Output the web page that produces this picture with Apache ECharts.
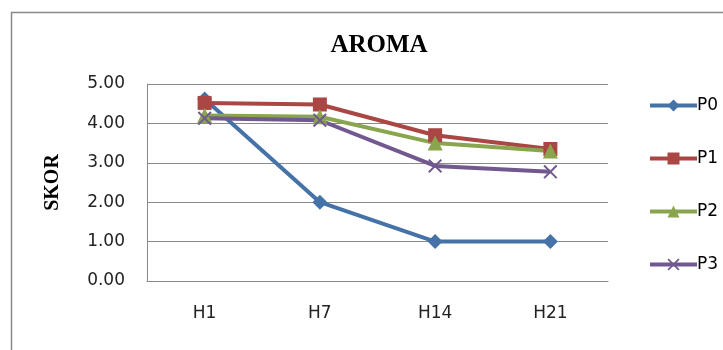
<!DOCTYPE html>
<html>
<head>
<meta charset="utf-8">
<script src="https://cdn.jsdelivr.net/npm/echarts@6/dist/echarts.min.js"></script>
<style>
  html, body { margin: 0; padding: 0; background: #fff; }
  #aromaChart { width: 723px; height: 350px; }
</style>
</head>
<body>
<div id="aromaChart"></div>
<script>
  var categories = ["H1", "H7", "H14", "H21"];
  var yTicks = [0, 1, 2, 3, 4, 5];
  var p0 = [4.62, 2.0, 1.0, 1.0];
  var p1 = [4.52, 4.48, 3.7, 3.35];
  var p2 = [4.2, 4.17, 3.5, 3.3];
  var p3 = [4.13, 4.08, 2.92, 2.77];

  var crossPath = "path://M0,1L1,0L10,9L9,10Z M9,0L10,1L1,10L0,9Z";
  var labelFont = "DejaVu Sans";

  var chartDom = document.getElementById("aromaChart");
  var myChart = echarts.init(chartDom);

  function makeSeries(name, data, color, symbol, size) {
    return {
      name: name,
      type: "line",
      data: data,
      symbol: symbol,
      symbolSize: size,
      symbolKeepAspect: true,
      lineStyle: { color: color, width: 4 },
      itemStyle: { color: color },
      animation: false,
    };
  }

  var option = {
    backgroundColor: "#fff",
    graphic: [
      {
        type: "rect",
        shape: { x: 11.5, y: 12.5, width: 800, height: 400 },
        style: { fill: "none", stroke: "#8a8a8a", lineWidth: 1.5 },
      },
    ],
    title: {
      text: "AROMA",
      left: 374,
      top: 28,
      textAlign: "center",
      textStyle: {
        fontFamily: "Liberation Serif",
        fontWeight: "bold",
        fontSize: 25,
        color: "#000",
      },
    },
    legend: {
      orient: "vertical",
      left: 643,
      top: 92,
      itemWidth: 47,
      itemHeight: 15,
      itemGap: 36,
      lineStyle: { width: 4 },
      textStyle: { fontFamily: labelFont, fontSize: 17, color: "#000", padding: [0, 0, 0, -5] },
      data: ["P0", "P1", "P2", "P3"],
    },
    grid: {
      left: 147,
      top: 84,
      right: 115,
      bottom: 69,
    },
    xAxis: {
      type: "category",
      data: categories,
      boundaryGap: true,
      axisLine: { lineStyle: { color: "#8a8a8a", width: 1 } },
      axisTick: { show: false },
      axisLabel: { fontFamily: labelFont, fontSize: 17, color: "#222", margin: 24 },
    },
    yAxis: {
      type: "value",
      min: yTicks[0],
      max: yTicks[yTicks.length - 1],
      interval: 1,
      name: "SKOR",
      nameLocation: "middle",
      nameGap: 84,
      nameRotate: 90,
      nameTextStyle: {
        fontFamily: "Liberation Serif",
        fontWeight: "bold",
        fontSize: 20,
        color: "#000",
      },
      axisLine: { show: true, lineStyle: { color: "#8a8a8a", width: 1 } },
      axisTick: { show: false },
      axisLabel: {
        fontFamily: labelFont,
        fontSize: 17,
        color: "#222",
        margin: 22,
        formatter: function (v) { return v.toFixed(2); },
      },
      splitLine: { lineStyle: { color: "#8a8a8a", width: 1 } },
    },
    series: [
      makeSeries("P0", p0, "#4572A7", "diamond", 15),
      makeSeries("P1", p1, "#AA4643", "rect", 14),
      makeSeries("P2", p2, "#89A54E", "triangle", 15),
      makeSeries("P3", p3, "#71588F", crossPath, 14),
    ],
  };

  myChart.setOption(option);
</script>
</body>
</html>
